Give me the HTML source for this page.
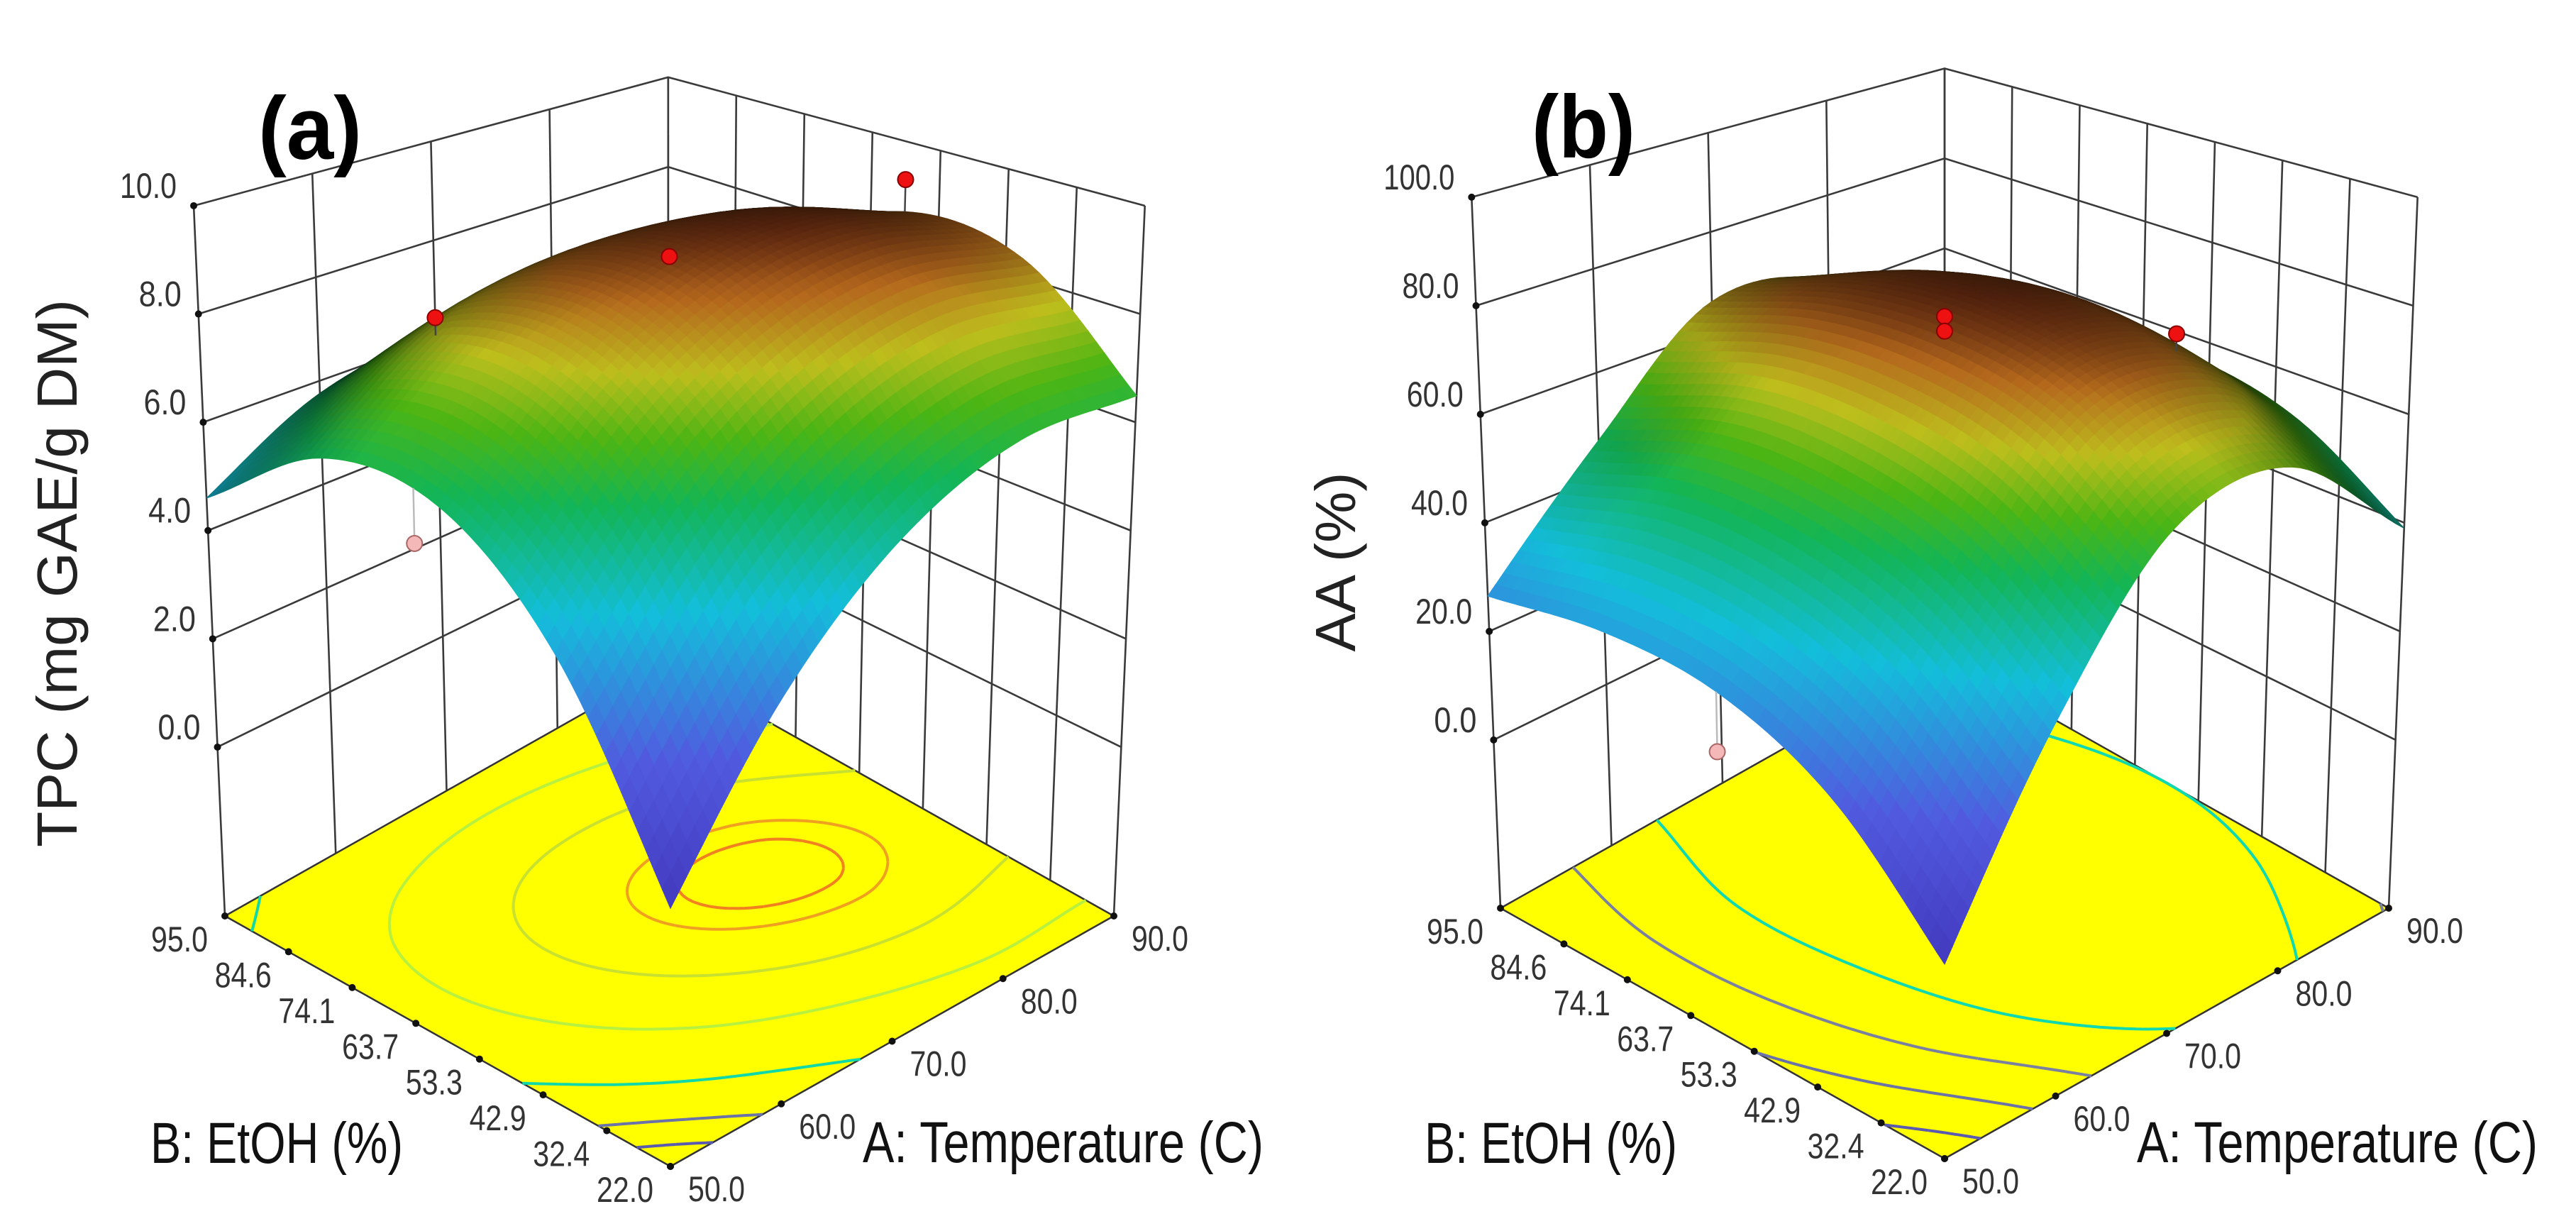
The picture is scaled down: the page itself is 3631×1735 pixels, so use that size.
<!DOCTYPE html>
<html><head><meta charset="utf-8"><title>Response surfaces</title>
<style>html,body{margin:0;padding:0;background:#fff}svg{display:block;font-family:"Liberation Sans",Arial,sans-serif}</style>
</head><body>
<svg id="chart" width="3631" height="1735" viewBox="0 0 3631 1735" xmlns="http://www.w3.org/2000/svg">
<rect width="3631" height="1735" fill="#fff"/>
</svg>
<script>
// ---- data ----
const aTickLabels = ["50.0","60.0","70.0","80.0","90.0"];
const bTickLabels = ["22.0","32.4","42.9","53.3","63.7","74.1","84.6","95.0"];
const zTicksTPC = [0,2,4,6,8,10];
const zTicksAA = [0,20,40,60,80,100];
// surface grid values (rows: EtOH 22→95, cols: Temperature 50→90)
const tpcGrid = [
 [0.95,3.60,5.44,6.41,6.49],
 [4.25,6.61,8.07,8.66,8.36],
 [6.00,7.98,9.06,9.26,8.58],
 [6.10,7.70,8.39,8.21,7.15],
 [4.60,5.76,6.08,5.51,4.06]
];
const aaGrid = [
 [-0.4,31.0,55.0,58.0,39.0],
 [17.8,46.0,69.0,70.0,52.0],
 [27.0,53.0,74.0,75.0,56.0],
 [29.0,54.0,73.0,72.0,52.0],
 [26.5,47.0,66.0,62.0,40.0]
];
// design points: [temperature fraction, EtOH fraction, response]
const tpcPoints = [[0.5,0.5,9.06],[1,0.5,9.23],[0.5,1,6.44],[0,0.55,5.2]];
const aaPoints = [[0.5,0.5,78.0],[0.5,0.5,75.3],[1,0.5,59.5],[0,0.5,16.8]];
const tpcLevels = [2,3.2,5,7,8.3,9.0,9.18];
const tpcLevelColors = ['#5a5ab0','#6a72a8','#10d8a8','#b8f040','#c8e030','#f0a020','#f08020'];
const aaLevels = [10,25,40,56];
const aaLevelColors = ['#5a5ab0','#6a72a8','#7a80a0','#10d8b0'];

const NS="http://www.w3.org/2000/svg";
const svg=document.getElementById('chart');
function mk(tag,attrs,parent){const e=document.createElementNS(NS,tag);for(const k in attrs)e.setAttribute(k,attrs[k]);(parent||svg).appendChild(e);return e;}

const stops=[[0,[70,60,200]],[0.22,[85,95,235]],[0.45,[20,200,230]],[0.62,[20,190,90]],[0.72,[80,190,20]],[0.82,[200,200,30]],[0.92,[190,110,30]],[1,[120,50,20]]];
function cmap(t){t=Math.max(0,Math.min(1,t));for(let i=1;i<stops.length;i++){if(t<=stops[i][0]){const a=stops[i-1],b=stops[i];const u=(t-a[0])/(b[0]-a[0]);return a[1].map((v,k)=>v+(b[1][k]-v)*u);}}return stops[stops.length-1][1];}
function rgb(c,f){return 'rgb('+c.map(v=>Math.round(Math.max(0,Math.min(255,v*f)))).join(',')+')';}

function cr(p0,p1,p2,p3,t){return 0.5*((2*p1)+(-p0+p2)*t+(2*p0-5*p1+4*p2-p3)*t*t+(-p0+3*p1-3*p2+p3)*t*t*t);}
function gget(g,j,i){
  const n=g.length-1;
  if(i<0) return 2*gget(g,j,0)-gget(g,j,1);
  if(i>n) return 2*gget(g,j,n)-gget(g,j,n-1);
  if(j<0) return 2*gget(g,0,i)-gget(g,1,i);
  if(j>n) return 2*gget(g,n,i)-gget(g,n-1,i);
  return g[j][i];
}
function surf(g,a,b){
  const n=g.length-1;
  let x=a*n,y=b*n;let i=Math.min(n-1,Math.floor(x)),j=Math.min(n-1,Math.floor(y));
  const tx=x-i,ty=y-j;const rows=[];
  for(let k=-1;k<=2;k++){rows.push(cr(gget(g,j+k,i-1),gget(g,j+k,i),gget(g,j+k,i+1),gget(g,j+k,i+2),tx));}
  return cr(rows[0],rows[1],rows[2],rows[3],ty);
}
function txt(parent,x,y,str,size,len,anchor,name){
  const t=mk('text',{x:x,y:y,'font-size':size,'text-anchor':anchor||'start',textLength:len,lengthAdjust:'spacingAndGlyphs'},parent);
  t.textContent=str;
  
  
  return t;
}

function panel(cfg){
  const G=mk('g',{});
  
  
  const P=(a,b,z)=>{
    const fx=cfg.front[0]+a*(cfg.right[0]-cfg.front[0])+b*(cfg.left[0]-cfg.front[0]);
    const fy=cfg.front[1]+a*(cfg.right[1]-cfg.front[1])+b*(cfg.left[1]-cfg.front[1]);
    const h=z-cfg.zf;const s=cfg.sF+(cfg.sB-cfg.sF)*(a+b)/2;const t=h/(cfg.ztop-cfg.zf);
    return [cfg.front[0]+(fx-cfg.front[0])*(1+cfg.kx*t), fy-s*h];
  };
  const fl=[P(0,0,cfg.zf),P(1,0,cfg.zf),P(1,1,cfg.zf),P(0,1,cfg.zf)];
  const floor=mk('polygon',{points:fl.map(p=>p.join(',')).join(' '),fill:'#ffff00',stroke:'#333','stroke-width':2.5},G);
  
  
  const wall=mk('g',{stroke:'#3a3a3a','stroke-width':2.6,fill:'none'},G);
  
  
  const na=aTickLabels.length-1, nb=bTickLabels.length-1;
  for(let i=0;i<=na;i++){const p1=P(i/na,1,cfg.zf),p2=P(i/na,1,cfg.ztop);mk('line',{x1:p1[0],y1:p1[1],x2:p2[0],y2:p2[1]},wall);}
  for(let j=0;j<=nb;j++){const p1=P(1,j/nb,cfg.zf),p2=P(1,j/nb,cfg.ztop);mk('line',{x1:p1[0],y1:p1[1],x2:p2[0],y2:p2[1]},wall);}
  cfg.zt.forEach(z=>{const p=[P(0,1,z),P(1,1,z),P(1,0,z)];mk('polyline',{points:p.map(q=>q.join(',')).join(' ')},wall);});
  const N=80;const Z=[];
  for(let j=0;j<=N;j++){Z.push([]);for(let i=0;i<=N;i++)Z[j].push(surf(cfg.grid,i/N,j/N));}
  let zmin=Infinity,zmax=-Infinity;Z.forEach(r=>r.forEach(v=>{zmin=Math.min(zmin,v);zmax=Math.max(zmax,v);}));
  const cg=mk('g',{fill:'none','stroke-width':4},G);
  
  
  cfg.levels.forEach((L,li)=>{
    let d='';
    for(let j=0;j<N;j++)for(let i=0;i<N;i++){
      const v=[Z[j][i],Z[j][i+1],Z[j+1][i+1],Z[j+1][i]];
      const c=[[i,j],[i+1,j],[i+1,j+1],[i,j+1]];const pts=[];
      for(let k=0;k<4;k++){const k2=(k+1)%4;const v1=v[k]-L,v2=v[k2]-L;if((v1<0)!==(v2<0)){const u=v1/(v1-v2);pts.push([(c[k][0]+u*(c[k2][0]-c[k][0]))/N,(c[k][1]+u*(c[k2][1]-c[k][1]))/N]);}}
      for(let k=0;k+1<pts.length;k+=2){const p1=P(pts[k][0],pts[k][1],cfg.zf),p2=P(pts[k+1][0],pts[k+1][1],cfg.zf);d+='M'+p1[0].toFixed(1)+','+p1[1].toFixed(1)+'L'+p2[0].toFixed(1)+','+p2[1].toFixed(1);}
    }
    const pe=mk('path',{d:d,stroke:cfg.levelColors[li]},cg);
    
    
  });
  const tg=mk('g',{fill:'#333'},G);
  
  
  bTickLabels.forEach((l,j)=>{const p=P(0,j/nb,cfg.zf);mk('circle',{cx:p[0],cy:p[1],r:5,fill:'#111'},tg);
    txt(tg,p[0]-64,p[1]+50,l,50,80,'middle','b-tick-label');});
  aTickLabels.forEach((l,i)=>{const p=P(i/na,0,cfg.zf);mk('circle',{cx:p[0],cy:p[1],r:5,fill:'#111'},tg);
    txt(tg,p[0]+65,p[1]+49,l,50,80,'middle','a-tick-label');});
  cfg.zt.forEach(z=>{const p=P(0,1,z);mk('circle',{cx:p[0],cy:p[1],r:5,fill:'#111'},tg);
    const s=z.toFixed(1);txt(tg,p[0]-24,p[1]-11,s,50,s.length*20,'end','z-tick-label');});
  const M=56;const cells=[];
  const S=[];for(let j=0;j<=M;j++){S.push([]);for(let i=0;i<=M;i++){const a=i/M,b=j/M;const z=surf(cfg.grid,a,b);S[j].push({z:z,p:P(a,b,z)});}}
  const areas=[];
  for(let j=0;j<M;j++)for(let i=0;i<M;i++){
    const q=[S[j][i],S[j][i+1],S[j+1][i+1],S[j+1][i]];
    let ar=0;for(let k=0;k<4;k++){const p1=q[k].p,p2=q[(k+1)%4].p;ar+=p1[0]*p2[1]-p2[0]*p1[1];}
    ar=Math.abs(ar/2);areas.push(ar);
    cells.push({q:q,d:(i+j),z:(q[0].z+q[1].z+q[2].z+q[3].z)/4,ar:ar});
  }
  const sorted=areas.slice().sort((x,y)=>x-y);const ref=sorted[Math.floor(sorted.length*0.6)];
  cells.sort((x,y)=>y.d-x.d);
  const sg=mk('g',{},G);
  
  
  cells.forEach(c=>{
    const f=0.25+0.7*Math.min(1,Math.pow(c.ar/ref,0.7));
    const col=rgb(cmap((c.z-zmin)/(zmax-zmin)),f);
    mk('polygon',{points:c.q.map(o=>o.p[0].toFixed(1)+','+o.p[1].toFixed(1)).join(' '),fill:col,stroke:col,'stroke-width':1.2},sg);
  });
  cfg.pts.forEach(pt=>{
    const zs=surf(cfg.grid,pt[0],pt[1]);const p=P(pt[0],pt[1],pt[2]);const ps=P(pt[0],pt[1],zs);
    const above=pt[2]>=zs;
    mk('line',{x1:p[0],y1:p[1],x2:ps[0],y2:ps[1],stroke:above?'#444':'#bbb','stroke-width':2.5},G);
    const c=mk('circle',{cx:p[0],cy:p[1],r:11,fill:above?'#ee1111':'#f4b8b8',stroke:above?'#800':'#a66','stroke-width':2},G);
    
    
  });
  const ttl=mk('text',{x:cfg.tag[0],y:cfg.tag[1],'font-size':125,'font-weight':'bold',fill:'#000',textLength:146,lengthAdjust:'spacingAndGlyphs'},G);ttl.textContent=cfg.tagText;
  
  
  const zt=mk('text',{x:cfg.zTitle[0],y:cfg.zTitle[1],'font-size':80,fill:'#222','text-anchor':'middle',textLength:cfg.zTitleLen,lengthAdjust:'spacingAndGlyphs',transform:'rotate(-90 '+cfg.zTitle[0]+' '+cfg.zTitle[1]+')'},G);zt.textContent=cfg.zTitleText;
  
  
  const tt=mk('g',{fill:'#111'},G);
  txt(tt,cfg.front[0]-733,1639,'B: EtOH (%)',82,356,'start','b-axis-title');
  txt(tt,cfg.front[0]+271,1638,'A: Temperature (C)',82,565,'start','a-axis-title');
}

panel({name:'panel-a-tpc',front:[945,1644],right:[1570,1291],left:[317,1291],sF:89.4,sB:63.2,zf:-3.12,ztop:10,kx:0.07,
  grid:tpcGrid,pts:tpcPoints,zt:zTicksTPC,levels:tpcLevels,levelColors:tpcLevelColors,tag:[364,224],tagText:'(a)',
  zTitle:[108,808],zTitleLen:772,zTitleText:'TPC (mg GAE/g DM)'});
panel({name:'panel-b-aa',front:[2741,1633],right:[3367,1280],left:[2115,1280],sF:8.96,sB:6.34,zf:-31,ztop:100,kx:0.065,
  grid:aaGrid,pts:aaPoints,zt:zTicksAA,levels:aaLevels,levelColors:aaLevelColors,tag:[2159,222],tagText:'(b)',
  zTitle:[1910,792],zTitleLen:253,zTitleText:'AA (%)'});
</script>
</body></html>
